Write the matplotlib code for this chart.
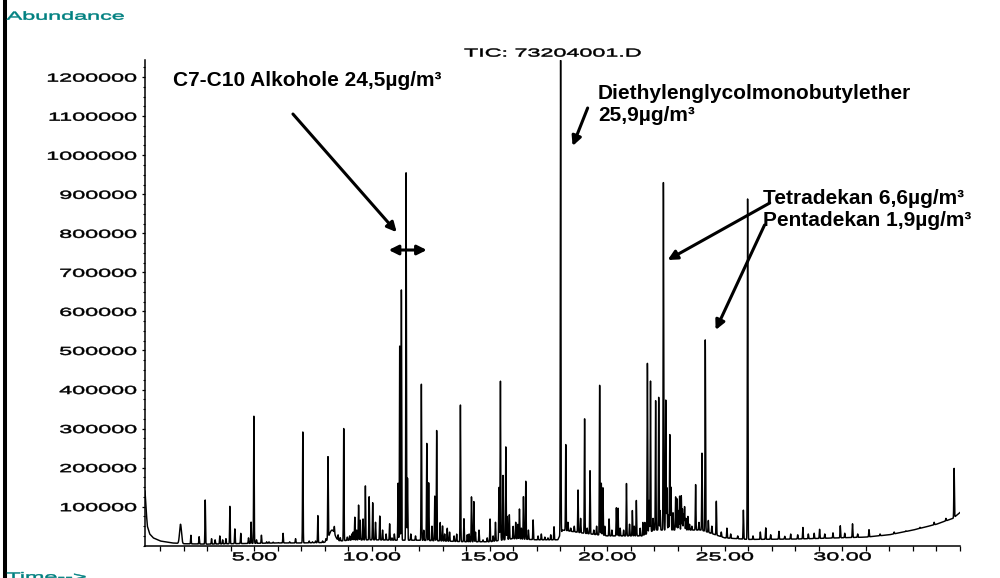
import numpy as np
import matplotlib
matplotlib.use("Agg")
from matplotlib import pyplot as plt
from matplotlib import patheffects
from matplotlib.lines import Line2D
from matplotlib.ticker import FixedLocator, MultipleLocator, StrMethodFormatter
from matplotlib.transforms import Affine2D

# baseline of the total ion current (time in min, abundance)
base_time = [0.35, 0.40, 0.45, 0.55, 0.70, 1.0, 1.5, 2.0, 3.0, 4.0, 5.0, 6.0, 7.0, 8.0,
             9.0, 10.0, 11.0, 12.0, 13.0, 14.0, 15.0, 16.0, 17.0, 17.9, 18.1, 19.0,
             20.0, 21.5, 22.0, 24.0, 24.5, 25.0, 26.0, 28.0, 31.0, 32.0, 33.0, 34.0,
             34.7, 35.0]
base_level = [140000, 90000, 50000, 30000, 20000, 12000, 7000, 5000, 4000, 5000, 6000,
              7000, 7000, 8000, 14000, 15000, 14000, 14000, 12000, 10000, 10000, 18000,
              15000, 15000, 40000, 32000, 25000, 25000, 40000, 40000, 30000, 20000,
              16000, 17000, 22000, 28000, 40000, 55000, 70000, 85000]

# resolved peaks: retention time (min) and apex abundance
peak_time = [2.30, 2.65, 2.91, 3.18, 3.33, 3.53, 3.65, 3.79, 3.96, 4.17, 4.42, 4.75,
             4.86, 4.98, 5.09, 5.30, 5.52, 6.22, 6.75, 7.06, 7.33, 7.47, 7.70, 8.04,
             8.13, 8.56, 8.80, 9.14, 9.27, 9.43, 9.50, 9.62, 9.72, 9.88, 10.03, 10.33,
             10.75, 11.11, 11.18, 11.25, 11.45, 11.51, 12.10, 12.33, 12.41, 12.67,
             12.75, 13.00, 13.09, 13.49, 13.76, 13.91, 14.13, 14.23, 14.33, 14.72,
             15.02, 15.25, 15.40, 15.46, 15.57, 15.69, 15.84, 16.11, 16.27, 16.44,
             16.54, 16.85, 17.06, 17.48, 17.74, 18.02, 18.24, 18.33, 18.76, 18.87,
             19.04, 19.27, 19.43, 19.68, 19.75, 19.82, 20.08, 20.39, 20.46, 20.82,
             21.07, 21.24, 21.52, 21.71, 21.78, 21.84, 22.06, 22.19, 22.39, 22.49,
             22.54, 22.66, 22.71, 22.91, 22.97, 23.03, 23.08, 23.15, 23.20, 23.29,
             23.43, 23.76, 24.03, 24.17, 24.64, 25.09, 25.79, 25.97, 26.51, 26.74,
             27.30, 28.32, 29.03, 29.91, 30.43, 31.13, 34.75]
peak_height = [27000, 23000, 117000, 18000, 15000, 25000, 15000, 18000, 102000, 43000,
               32000, 20000, 61000, 336000, 15000, 27000, 10000, 32000, 18000, 295000,
               12000, 10000, 78000, 15000, 217000, 25000, 304000, 30000, 73000, 104000,
               66000, 69000, 155000, 127000, 110000, 76000, 56000, 160000, 518000,
               655000, 955000, 173000, 419000, 262000, 161000, 127000, 295000, 51000,
               30000, 25000, 365000, 69000, 30000, 125000, 113000, 15000, 69000, 60000,
               151000, 427000, 180000, 253000, 80000, 60000, 94000, 127000, 167000,
               66000, 25000, 20000, 49000, 1260000, 262000, 60000, 144000, 70000,
               329000, 192000, 40000, 416000, 160000, 150000, 69000, 97000, 97000,
               161000, 90000, 117000, 60000, 467000, 117000, 427000, 376000, 380000,
               930000, 373000, 150000, 288000, 150000, 125000, 120000, 90000, 128000,
               128000, 95000, 100000, 75000, 158000, 237000, 527000, 115000, 45000,
               91000, 888000, 35000, 46000, 37000, 47000, 42000, 51000, 56000, 41000,
               198000]

# small unresolved peaks on the baseline
minor_time = [5.62, 5.80, 6.02, 6.50, 7.60, 7.90, 8.40, 8.65, 8.95, 9.05, 9.20, 9.35,
              10.15, 10.45, 10.60, 10.85, 10.95, 11.65, 11.85, 12.20, 12.55, 12.90,
              13.20, 13.30, 13.60, 14.05, 14.40, 14.55, 14.90, 15.15, 15.75, 16.00,
              16.20, 16.35, 16.65, 17.20, 17.35, 17.60, 18.45, 18.60, 19.15, 19.55,
              19.90, 20.20, 20.55, 20.70, 20.95, 21.15, 21.40, 21.60, 21.95, 22.25,
              22.60, 22.80, 23.25, 23.35, 23.50, 23.60, 23.90, 24.30, 24.45, 24.85,
              25.25, 25.55, 26.20, 26.95, 27.55, 27.80, 28.10, 28.55, 28.80, 29.25,
              29.60, 30.10, 30.65, 31.60, 32.20, 32.70, 33.30, 33.90, 34.40]
minor_height = [10000, 9000, 8000, 10000, 12000, 12000, 28000, 20000, 22000, 25000,
                35000, 40000, 60000, 40000, 30000, 20000, 30000, 30000, 25000, 40000,
                50000, 60000, 45000, 35000, 30000, 28000, 35000, 40000, 20000, 25000,
                75000, 50000, 55000, 45000, 40000, 30000, 22000, 28000, 45000, 50000,
                45000, 50000, 50000, 40000, 45000, 40000, 55000, 50000, 45000, 60000,
                70000, 90000, 80000, 85000, 80000, 70000, 55000, 50000, 60000, 65000,
                50000, 35000, 30000, 25000, 25000, 28000, 24000, 30000, 28000, 30000,
                32000, 30000, 33000, 32000, 30000, 30000, 35000, 38000, 47000, 60000,
                70000]

# broad features: solvent tail bump and the hump after the 8.1 min peak
broad_time = [1.86, 8.30]
broad_height = [55000, 40000]
broad_sigma = [0.04, 0.12]

SHARP = 0.012


class Widen(patheffects.AbstractPathEffect):
    """Draw text glyphs stretched horizontally about one edge."""

    def __init__(self, sx, anchor="left", stroke=0.35):
        super().__init__()
        self.sx = sx
        self.anchor = anchor
        self.stroke = stroke

    def draw_path(self, renderer, gc, tpath, affine, rgbFace=None):
        ext = tpath.get_extents()
        x0 = {"left": ext.x0, "right": ext.x1, "center": 0.5 * (ext.x0 + ext.x1)}[self.anchor]
        stretch = Affine2D().translate(-x0, 0).scale(self.sx, 1.0).translate(x0, 0)
        gc0 = renderer.new_gc()
        gc0.copy_properties(gc)
        gc0.set_linewidth(self.stroke)
        renderer.draw_path(gc0, tpath, stretch + affine, rgbFace)
        gc0.restore()


def trace(t):
    base = np.interp(t, base_time, base_level)
    y = base.copy()
    for t0, h in zip(peak_time + minor_time, peak_height + minor_height):
        amp = max(h - np.interp(t0, base_time, base_level), 0)
        y += amp * np.exp(-0.5 * ((t - t0) / SHARP) ** 2)
    for t0, h, s in zip(broad_time, broad_height, broad_sigma):
        amp = max(h - np.interp(t0, base_time, base_level), 0)
        y += amp * np.exp(-0.5 * ((t - t0) / s) ** 2)
    return y


def main():
    plt.rcParams["font.family"] = ["Liberation Sans", "DejaVu Sans"]
    teal = "#008080"
    small = 8.4
    wide = 2.0

    fig = plt.figure(figsize=(10, 5.78), dpi=100)
    ax = fig.add_axes([0.145, 0.0559, 0.815, 0.841])

    t = np.arange(0.35, 35.0, 0.004)
    ax.plot(t, trace(t), color="black", lw=1.05)

    ax.set_xlim(0.35, 35.0)
    ax.set_ylim(0, 1245000)

    for side in ("top", "right"):
        ax.spines[side].set_visible(False)
    for side in ("left", "bottom"):
        ax.spines[side].set_linewidth(1.1)

    ax.xaxis.set_major_locator(FixedLocator([5, 10, 15, 20, 25, 30]))
    ax.xaxis.set_major_formatter(StrMethodFormatter("{x:.2f}"))
    ax.xaxis.set_minor_locator(MultipleLocator(1))
    ax.yaxis.set_major_locator(FixedLocator(np.arange(100000, 1200001, 100000)))
    ax.yaxis.set_major_formatter(StrMethodFormatter("{x:.0f}"))
    ax.yaxis.set_minor_locator(MultipleLocator(25000))

    ax.tick_params(axis="x", which="both", direction="out", length=3.6, width=0.9,
                   labelsize=small, pad=0.5)
    ax.tick_params(axis="y", which="major", direction="out", length=2.5, width=0.9,
                   labelsize=small, pad=3.5)
    ax.tick_params(axis="y", which="minor", direction="out", length=1.6, width=0.8)

    for lbl in ax.get_yticklabels():
        lbl.set_path_effects([Widen(wide, "right")])
    for lbl in ax.get_xticklabels():
        lbl.set_path_effects([Widen(wide, "center")])

    title = ax.set_title("TIC: 73204001.D", fontsize=small, pad=0.6)
    title.set_path_effects([Widen(wide, "center")])

    fig.text(0.0067, 1 - 16.7 / 578, "Abundance", color=teal, fontsize=small,
             ha="left", va="center", path_effects=[Widen(wide, "left")])
    fig.text(0.0067, 1 - 571.5 / 578, "Time-->", color=teal, fontsize=small,
             ha="left", va="top", path_effects=[Widen(wide, "left")])

    # window border on the left
    fig.add_artist(Line2D([0.0053, 0.0053], [0, 1], lw=2.9, color="black",
                          transform=fig.transFigure))

    bold = dict(fontsize=15, fontweight="bold", color="black", ha="left", va="center")
    ax.text(1.54, 1192700, "C7-C10 Alkohole 24,5µg/m³", **bold)
    ax.text(19.6, 1129900, "Diethylenglycolmonobutylether\n25,9µg/m³",
            linespacing=1.15, **bold)
    ax.text(26.61, 861000, "Tetradekan 6,6µg/m³\nPentadekan 1,9µg/m³",
            linespacing=1.2, **bold)

    arrow = dict(arrowstyle="-|>", color="black", lw=2.2, mutation_scale=14,
                 shrinkA=0, shrinkB=0)
    both = dict(arrow, arrowstyle="<|-|>")
    ax.annotate("", xy=(11.05, 803000), xytext=(6.64, 1105600), arrowprops=arrow)
    ax.annotate("", xy=(10.71, 757300), xytext=(12.33, 757300), arrowprops=both)
    ax.annotate("", xy=(18.53, 1023700), xytext=(19.17, 1121000), arrowprops=arrow)
    ax.annotate("", xy=(22.57, 731700), xytext=(26.91, 877700), arrowprops=arrow)
    ax.annotate("", xy=(24.61, 552400), xytext=(26.69, 821300), arrowprops=arrow)

    fig.savefig("out.png", dpi=100)


if __name__ == "__main__":
    main()
